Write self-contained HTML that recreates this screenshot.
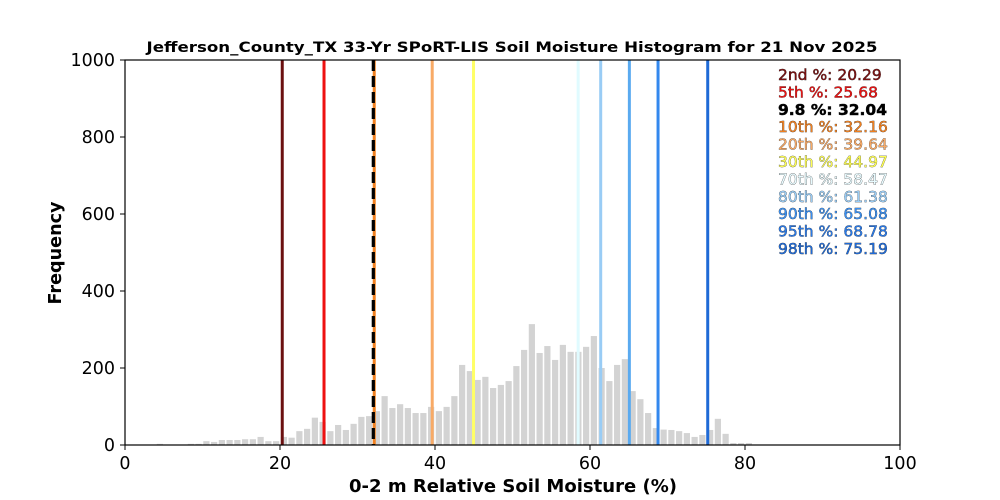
<!DOCTYPE html>
<html><head><meta charset="utf-8"><style>
html,body{margin:0;padding:0;background:#fff;}
svg{display:block;font-family:"DejaVu Sans","Liberation Sans",sans-serif;}
.lg{font-size:15.5px;paint-order:stroke;stroke:#222;stroke-width:0.5px;}
</style></head><body>
<svg id="s" width="1000" height="500" xmlns="http://www.w3.org/2000/svg">
<rect width="1000" height="500" fill="#fff"/>
<g id="bars" fill="#d3d3d3"></g>
<g id="lines"></g>
<rect x="125" y="60" width="775" height="385" fill="none" stroke="#000" stroke-width="1.2"/>
<g id="ticks" font-size="17.5" fill="#000"></g>
<text x="512" y="52" font-size="14.5" font-weight="bold" text-anchor="middle" textLength="731" lengthAdjust="spacingAndGlyphs">Jefferson_County_TX 33-Yr SPoRT-LIS Soil Moisture Histogram for 21 Nov 2025</text>
<text x="513" y="492" font-size="17.5" font-weight="bold" text-anchor="middle" textLength="328" lengthAdjust="spacingAndGlyphs">0-2 m Relative Soil Moisture (%)</text>
<text transform="translate(61,253) rotate(-90)" font-size="17.5" font-weight="bold" text-anchor="middle" textLength="103" lengthAdjust="spacingAndGlyphs">Frequency</text>
<g id="leg"></g>
</svg>
<script>
var NS="http://www.w3.org/2000/svg";
function X(v){return 125+v*7.75;}
function Y(f){return 445-f*0.385;}
function el(p,t,a,txt){var e=document.createElementNS(NS,t);for(var k in a)e.setAttribute(k,a[k]);if(txt!=null)e.textContent=txt;document.getElementById(p).appendChild(e);return e;}
var h={4:3,8:3,9:3,10:10,11:8,12:13,13:13,14:13,15:15,16:15,17:21,18:10,19:10,20:21,21:19,22:36,23:42,24:71,25:60,26:36,27:52,28:39,29:55,30:73,31:75,32:88,33:127,34:96,35:106,36:96,37:83,38:83,39:99,40:88,41:99,42:127,43:208,44:192,45:169,46:177,47:148,48:156,49:166,50:205,51:247,52:314,53:239,54:257,55:221,56:260,57:242,58:242,59:255,60:283,61:200,62:166,63:208,64:223,65:140,66:119,67:83,68:44,69:40,70:39,71:36,72:31,73:21,74:26,75:39,76:68,77:29,78:5,79:5,80:5};
for(var k in h){var c=X(+k+0.5);el("bars","rect",{x:c-3.1,y:Y(h[k]),width:6.2,height:h[k]*0.385});}
var L=[[20.29,"#6b1010"],[25.68,"#ee1111"],[32.16,"#f08020"],[39.64,"#f8aa66"],[44.97,"#ffff66"],[58.47,"#e0fbff"],[61.38,"#99ccf5"],[65.08,"#5aaaf0"],[68.78,"#3388ee"],[75.19,"#1f6ad6"]];
L.forEach(function(l){el("lines","line",{x1:X(l[0]),x2:X(l[0]),y1:60,y2:445,stroke:l[1],"stroke-width":3});});
el("lines","line",{x1:X(32.04),x2:X(32.04),y1:60,y2:445,stroke:"#000","stroke-width":3.2,"stroke-dasharray":"11 5"});
[0,20,40,60,80,100].forEach(function(v){el("ticks","line",{x1:X(v),x2:X(v),y1:445,y2:450,stroke:"#000"});el("ticks","text",{x:X(v),y:469,"text-anchor":"middle"},v);});
[0,200,400,600,800,1000].forEach(function(v){el("ticks","line",{x1:120,x2:125,y1:Y(v),y2:Y(v),stroke:"#000"});el("ticks","text",{x:115,y:Y(v)+6,"text-anchor":"end"},v);});
var G=[["2nd %: 20.29","#7a1010"],["5th %: 25.68","#ee1111"],["9.8 %: 32.04","#000"],["10th %: 32.16","#f08020"],["20th %: 39.64","#f8aa66"],["30th %: 44.97","#ffff55"],["70th %: 58.47","#e8fbff"],["80th %: 61.38","#99ccf5"],["90th %: 65.08","#3a8ff0"],["95th %: 68.78","#2a7ae8"],["98th %: 75.19","#1f6ad6"]];
G.forEach(function(g,i){var t=el("leg","text",{x:778,y:80+i*17.4,fill:g[1],"class":"lg"},g[0]);if(i==2){t.setAttribute("font-weight","bold");t.setAttribute("stroke","none");t.setAttribute("font-size","15");}});
</script>
</body></html>
